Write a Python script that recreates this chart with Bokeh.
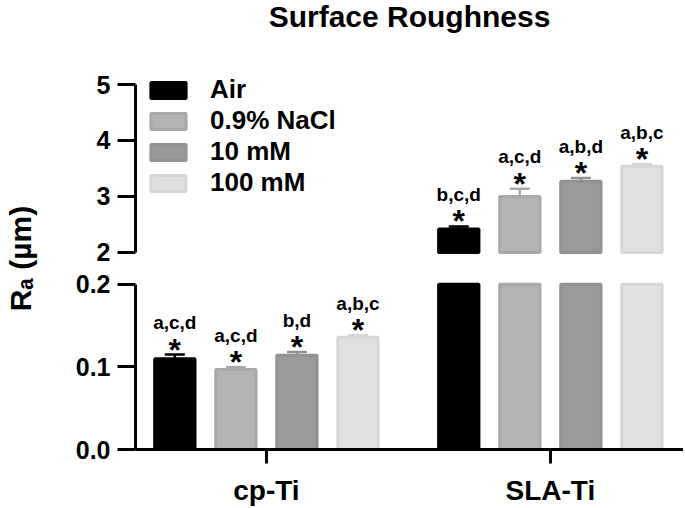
import numpy as np
from bokeh.plotting import figure
from bokeh.models import (ColumnDataSource, Range1d, FixedTicker, Legend, LegendItem,
                          PrintfTickFormatter)
from bokeh.layouts import row, column
from bokeh.embed import file_html
from bokeh.resources import INLINE
from bokeh.core.properties import value

# ---------------- data ----------------
groups = ["cp-Ti", "SLA-Ti"]
conditions = ["Air", "0.9% NaCl", "10 mM", "100 mM"]
cp_ti_mean = [0.110, 0.097, 0.114, 0.136]
cp_ti_err = [0.005, 0.0025, 0.004, 0.0025]
sla_ti_mean = [2.42, 3.00, 3.27, 3.54]
sla_ti_err = [0.045, 0.14, 0.06, 0.035]
cp_ti_sig = ["a,c,d", "a,c,d", "b,d", "a,b,c"]
sla_ti_sig = ["b,c,d", "a,c,d", "a,b,d", "a,b,c"]
y_ticks_low = [0.0, 0.1, 0.2]
y_ticks_high = [2, 3, 4, 5]
title_text = "Surface Roughness"
ylabel_text = "R\u2090 (µm)"

# ---------------- style ----------------
FONT = "Liberation Sans"
fill_colors = ["#000000", "#b3b3b3", "#9a9a9a", "#e0e0e0"]
line_colors = ["#000000", "#a8a8a8", "#929292", "#d6d6d6"]
break_low = 0.2    # top of the lower segment
break_high = 2.0   # bottom of the upper segment
bar_step = 0.215
bar_w = 0.142
offsets = [(i - 1.5) * bar_step for i in range(len(conditions))]

means = [cp_ti_mean, sla_ti_mean]
errs = [cp_ti_err, sla_ti_err]
sigs = [cp_ti_sig, sla_ti_sig]

x_range = Range1d(-0.461, 1.469)


def style_y(ax, ticks, bounds):
    ax.ticker = FixedTicker(ticks=ticks)
    ax.bounds = bounds
    ax.axis_line_width = 3
    ax.axis_line_color = "black"
    ax.major_tick_line_width = 3
    ax.major_tick_out = 18
    ax.major_tick_in = 0
    ax.minor_tick_out = 0
    ax.minor_tick_in = 0
    ax.major_label_text_font = FONT
    ax.major_label_text_font_size = "25px"
    ax.major_label_text_font_style = "bold"
    ax.major_label_text_color = "black"
    ax.major_label_standoff = 7


# ---------------- title strip (frame aligned with the plots below) ----------------
tt = figure(width=643, height=40, x_range=x_range, y_range=Range1d(0, 40),
            x_axis_type=None, y_axis_type=None, toolbar_location=None,
            output_backend="svg", min_border=0, min_border_left=95,
            outline_line_color=None)
tt.text(x=[(x_range.start + x_range.end) / 2], y=[24], text=[title_text],
        text_align="center", text_baseline="alphabetic", text_font=value(FONT),
        text_font_size="30px", text_font_style="bold", text_color="black")

# ---------------- upper segment ----------------
top = figure(width=643, height=228, x_range=x_range, y_range=Range1d(1.714, 5.643),
             x_axis_location=None, toolbar_location=None, output_backend="svg",
             min_border_left=95, min_border_right=0, min_border_top=8,
             min_border_bottom=0, outline_line_color=None)
top.grid.visible = False
style_y(top.yaxis[0], y_ticks_high, (2, 5))

# ---------------- lower segment ----------------
bot = figure(width=643, height=240, x_range=x_range, y_range=Range1d(0, 0.2192),
             toolbar_location=None, output_backend="svg",
             min_border_left=95, min_border_right=0, min_border_top=0,
             min_border_bottom=57, outline_line_color=None)
bot.grid.visible = False
style_y(bot.yaxis[0], y_ticks_low, (0, 0.2))
bot.yaxis[0].formatter = PrintfTickFormatter(format="%.1f")
xa = bot.xaxis[0]
xa.ticker = FixedTicker(ticks=list(range(len(groups))))
xa.major_label_overrides = {i: g for i, g in enumerate(groups)}
xa.axis_line_width = 3
xa.axis_line_color = "black"
xa.major_tick_line_width = 3
xa.major_tick_out = 14
xa.major_tick_in = 0
xa.minor_tick_out = 0
xa.major_label_text_font = FONT
xa.major_label_text_font_size = "28px"
xa.major_label_text_font_style = "bold"
xa.major_label_text_color = "black"
xa.major_label_standoff = 11

legend_items = []
for i, cond in enumerate(conditions):
    xs = [g + offsets[i] for g in range(len(groups))]
    ms = [means[g][i] for g in range(len(groups))]
    es = [errs[g][i] for g in range(len(groups))]
    ss = [sigs[g][i] for g in range(len(groups))]

    # lower segment bars (clipped at the break)
    low_src = ColumnDataSource(dict(x=xs, top=[min(m, break_low) for m in ms]))
    bot.vbar(x="x", top="top", bottom=0, width=bar_w, source=low_src,
             fill_color=fill_colors[i], line_color=line_colors[i], line_width=3)

    # upper segment bars (only values above the break)
    hi = [(x, m) for x, m in zip(xs, ms) if m > break_high]
    hi_src = ColumnDataSource(dict(x=[h[0] for h in hi], top=[h[1] for h in hi]))
    r = top.vbar(x="x", top="top", bottom=break_high, width=bar_w, source=hi_src,
                 fill_color=fill_colors[i], line_color=line_colors[i], line_width=3)
    legend_items.append(LegendItem(label=cond, renderers=[r]))

    # error bars + significance labels in whichever segment holds the value
    for fig, sel in ((bot, lambda m: m <= break_low), (top, lambda m: m > break_high)):
        pts = [(x, m, e, s) for x, m, e, s in zip(xs, ms, es, ss) if sel(m)]
        if not pts:
            continue
        src = ColumnDataSource(dict(
            x=[p[0] for p in pts], y0=[p[1] for p in pts],
            y1=[p[1] + p[2] for p in pts], sig=[p[3] for p in pts],
            star=["*" for _ in pts]))
        fig.segment(x0="x", y0="y0", x1="x", y1="y1", source=src,
                    line_color=line_colors[i], line_width=2.5)
        fig.scatter(x="x", y="y1", marker="dash", size=20, source=src,
                    line_color=line_colors[i], line_width=2.5)
        fig.text(x="x", y="y1", text="star", source=src, y_offset=-5,
                 text_align="center", text_baseline="alphabetic",
                 text_font=value(FONT), text_font_size="32px",
                 text_font_style="bold", text_color="black")
        fig.text(x="x", y="y1", text="sig", source=src, y_offset=-32,
                 text_align="center", text_baseline="alphabetic",
                 text_font=value(FONT), text_font_size="19px",
                 text_font_style="bold", text_color="black")

legend = Legend(items=legend_items, location=(11, 70), orientation="vertical",
                padding=0, margin=0, spacing=0, glyph_width=44, glyph_height=20,
                label_standoff=20, label_text_font=FONT, label_text_font_size="26px",
                label_text_font_style="bold", label_text_color="black",
                border_line_color=None, background_fill_alpha=0)
top.add_layout(legend, "center")

# ---------------- y-axis label (spans both segments) ----------------
yl = figure(width=40, height=508, x_range=Range1d(0, 1), y_range=Range1d(0, 1),
            x_axis_location=None, y_axis_location="left", toolbar_location=None,
            output_backend="svg", min_border_left=0, min_border_right=0,
            min_border_top=8, min_border_bottom=0, outline_line_color=None)
yl.grid.visible = False
ya = yl.yaxis[0]
ya.ticker = FixedTicker(ticks=[])
ya.axis_line_color = None
ya.major_tick_line_color = None
ya.minor_tick_line_color = None
ya.axis_label = ylabel_text
ya.axis_label_standoff = 0
ya.axis_label_text_font = FONT
ya.axis_label_text_font_size = "30px"
ya.axis_label_text_font_style = "bold"
ya.axis_label_text_color = "black"

layout = row(yl, column(tt, top, bot))
open("out.html", "w").write(file_html(layout, INLINE))
